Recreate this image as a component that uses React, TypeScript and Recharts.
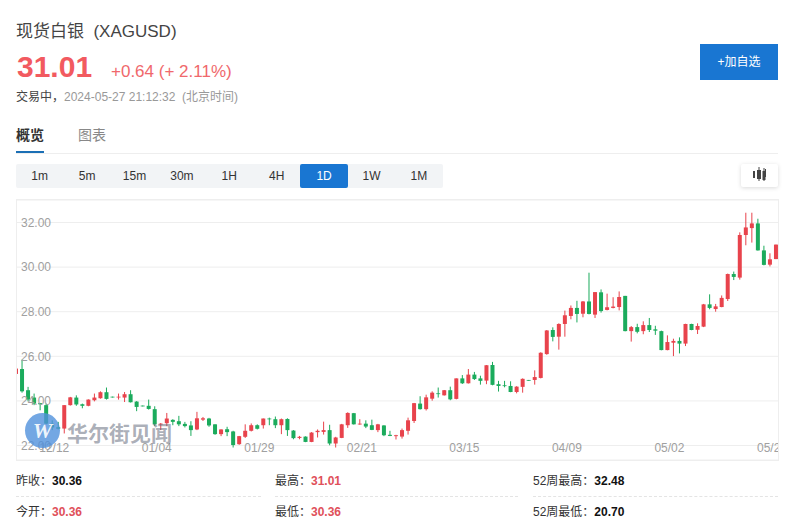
import React from "react";
import { ComposedChart, Bar, XAxis, YAxis, CartesianGrid } from "recharts";

const dates = [
  "12/01","12/04","12/05","12/06","12/07","12/08","12/11","12/12","12/13","12/14","12/15","12/18","12/19","12/20","12/21","12/22",
  "12/25","12/26","12/27","12/28","12/29","01/01","01/02","01/03","01/04","01/05","01/08","01/09","01/10","01/11","01/12",
  "01/15","01/16","01/17","01/18","01/19","01/22","01/23","01/24","01/25","01/26","01/29","01/30","01/31","02/01","02/02",
  "02/05","02/06","02/07","02/08","02/09","02/12","02/13","02/14","02/15","02/16","02/19","02/20","02/21","02/22","02/23",
  "02/26","02/27","02/28","02/29","03/01","03/04","03/05","03/06","03/07","03/08","03/11","03/12","03/13","03/14","03/15",
  "03/18","03/19","03/20","03/21","03/22","03/25","03/26","03/27","03/28","03/29","04/01","04/02","04/03","04/04","04/05",
  "04/08","04/09","04/10","04/11","04/12","04/15","04/16","04/17","04/18","04/19","04/22","04/23","04/24","04/25","04/26",
  "04/29","04/30","05/01","05/02","05/03","05/06","05/07","05/08","05/09","05/10","05/13","05/14","05/15","05/16","05/17",
  "05/20","05/21","05/22","05/23","05/24","05/27",
];
const tickDates = ["12/12","01/04","01/29","02/21","03/15","04/09","05/02","05/27"];
const priceTicks = [22, 24, 26, 28, 30, 32];

const opens = [
  25.21,25.43,24.48,24.15,23.90,23.81,22.98,22.82,22.76,23.81,24.15,23.85,23.78,24.03,24.12,24.39,
  24.19,24.16,24.15,24.30,23.97,23.79,23.78,23.63,22.97,23.00,23.15,23.09,22.97,22.90,22.72,
  23.16,23.21,22.95,22.51,22.73,22.63,22.06,22.39,22.66,22.91,22.91,23.21,23.18,22.91,23.19,
  22.67,22.34,22.40,22.16,22.60,22.61,22.69,22.09,22.34,22.91,23.45,22.95,22.98,22.91,22.69,
  22.90,22.48,22.42,22.40,22.66,23.10,23.88,23.63,24.10,24.34,24.25,24.48,24.09,25.01,24.79,
  25.18,25.01,24.91,25.61,24.75,24.70,24.67,24.40,24.63,24.94,24.94,25.03,26.10,27.18,26.88,
  27.45,27.81,28.17,27.91,28.46,27.87,28.87,28.08,28.17,28.21,28.71,27.13,27.31,27.13,27.40,
  27.21,27.13,26.28,26.61,26.69,26.57,27.45,27.19,27.33,28.33,28.12,28.21,28.57,29.69,29.53,
  31.44,31.75,31.96,30.75,30.11,30.36,
];
const closes = [
  25.45,24.43,24.06,23.88,23.85,22.98,22.81,22.75,23.81,24.16,23.84,23.78,24.06,24.15,24.39,24.09,
  24.18,24.19,24.30,23.94,23.73,23.78,23.64,22.95,22.98,23.21,23.06,22.95,22.87,22.69,23.22,
  23.22,22.90,22.51,22.72,22.60,22.02,22.42,22.66,22.91,22.75,23.21,23.18,22.91,23.18,22.69,
  22.33,22.39,22.16,22.58,22.66,22.69,22.09,22.36,22.95,23.46,22.95,22.98,22.85,22.70,22.95,
  22.46,22.43,22.46,22.69,23.13,23.90,23.63,24.16,24.37,24.31,24.48,24.07,25.01,24.79,25.18,
  24.98,24.90,25.60,24.72,24.67,24.67,24.40,24.64,24.99,24.92,25.07,26.16,27.16,26.87,27.45,
  27.84,28.17,27.90,28.46,27.90,28.88,28.03,28.20,28.23,28.66,27.13,27.31,27.10,27.40,27.18,
  27.15,26.28,26.64,26.69,26.57,27.45,27.18,27.36,28.33,28.17,28.24,28.62,29.69,29.56,31.44,
  31.78,31.96,30.75,30.10,30.35,31.01,
];
const highs = [
  25.45,25.85,24.63,24.33,23.91,23.88,23.13,23.06,23.81,24.18,24.25,23.88,24.07,24.33,24.43,24.60,
  24.19,24.33,24.40,24.48,23.99,23.79,24.06,23.76,23.01,23.46,23.18,23.33,23.06,23.09,23.51,
  23.28,23.24,22.95,22.73,22.84,22.66,22.43,22.95,22.99,22.95,23.21,23.25,23.30,23.21,23.22,
  22.69,22.43,22.41,22.60,22.72,23.07,22.93,22.39,22.97,23.49,23.46,23.18,23.13,23.16,22.97,
  22.91,22.66,22.48,22.76,23.25,23.91,24.21,24.28,24.43,24.60,24.49,24.64,25.01,25.16,25.43,
  25.30,25.13,25.61,25.75,24.90,24.90,24.88,24.66,25.01,24.94,25.37,26.18,27.18,27.30,27.48,
  28.05,28.28,28.49,28.48,29.75,28.88,29.00,28.81,28.65,28.91,28.71,27.36,27.46,27.57,27.72,
  27.37,27.15,26.94,26.79,26.85,27.46,27.46,27.48,28.35,28.78,28.35,28.73,29.71,29.80,31.56,
  32.44,32.44,32.17,30.96,30.62,31.01,
];
const lows = [
  25.21,24.37,23.98,23.81,23.58,22.95,22.69,22.72,22.54,23.79,23.78,23.67,23.76,23.98,24.10,24.06,
  24.18,24.06,23.95,23.93,23.54,23.78,23.61,22.87,22.69,22.87,22.91,22.87,22.81,22.43,22.69,
  23.10,22.84,22.48,22.42,22.42,21.91,22.03,22.34,22.63,22.72,22.76,22.91,22.78,22.51,22.43,
  22.28,22.28,22.15,22.15,22.36,22.49,22.01,21.91,22.33,22.79,22.94,22.93,22.78,22.69,22.60,
  22.42,22.42,22.27,22.31,22.49,23.01,23.61,23.57,24.01,24.15,24.24,24.03,24.07,24.76,24.78,
  24.94,24.73,24.75,24.70,24.42,24.61,24.39,24.34,24.37,24.92,24.73,25.01,26.07,26.67,26.30,
  26.88,27.66,27.52,27.75,27.88,27.72,27.96,28.06,28.15,28.06,27.12,26.66,27.03,26.99,27.09,
  26.96,26.27,26.27,26.01,26.13,26.46,27.17,27.00,27.31,28.11,28.00,28.20,28.48,29.42,29.44,
  30.98,31.10,30.74,30.08,30.03,30.36,
];

const chartData = dates.map((date, i) => ({
  date,
  open: opens[i],
  close: closes[i],
  high: highs[i],
  low: lows[i],
  range: [lows[i], highs[i]],
}));

const UP = "#e8434c";
const DOWN = "#1bab5c";

function Candle(props: any) {
  const { x, y, width, height, payload } = props;
  const { open, close, high, low } = payload;
  const color = close >= open ? UP : DOWN;
  const unit = height / Math.max(high - low, 0.0001);
  const top = y + (high - Math.max(open, close)) * unit;
  const bodyH = Math.max(Math.abs(close - open) * unit, 0.8);
  const cx = x + width / 2;
  return (
    <g>
      <rect x={cx - 0.5} y={y} width={1} height={Math.max(height, 0.8)} fill={color} />
      <rect x={x} y={top} width={width} height={bodyH} fill={color} />
    </g>
  );
}

const periods = ["1m", "5m", "15m", "30m", "1H", "4H", "1D", "1W", "1M"];
const stats = [
  [{ k: "昨收：", v: "30.36", c: "#111" }, { k: "最高：", v: "31.01", c: "#e0505a" }, { k: "52周最高：", v: "32.48", c: "#111" }],
  [{ k: "今开：", v: "30.36", c: "#e0505a" }, { k: "最低：", v: "30.36", c: "#e0505a" }, { k: "52周最低：", v: "20.70", c: "#111" }],
];
const colX = [16, 275, 533];
const colW = [245, 243, 245];
const FONT = '"Liberation Sans", Arial, "Noto Sans CJK SC", sans-serif';

const abs = (left: number, top: number, extra: any = {}): any => ({
  position: "absolute",
  left,
  top,
  whiteSpace: "nowrap",
  ...extra,
});

export default function App() {
  return (
    <div style={{ position: "fixed", left: 0, top: 0, width: 800, height: 526, overflow: "hidden", background: "#fff", fontFamily: FONT }}>
      <div style={abs(16, 22, { fontSize: 17, lineHeight: "20px", color: "#444" })}>现货白银&nbsp;&nbsp;(XAGUSD)</div>
      <div style={abs(17, 49, { fontSize: 30, lineHeight: "36px", fontWeight: 700, color: "#f25a60" })}>31.01</div>
      <div style={abs(111, 61, { fontSize: 17, lineHeight: "22px", color: "#f0686c" })}>+0.64 (+ 2.11%)</div>
      <div style={abs(16, 89, { fontSize: 12, lineHeight: "16px", color: "#999" })}>
        <span style={{ color: "#444" }}>交易中，</span>2024-05-27 21:12:32&nbsp;&nbsp;(北京时间)
      </div>
      <div style={abs(700, 44, { width: 78, height: 36, lineHeight: "36px", background: "#1976d2", color: "#fff", fontSize: 12, textAlign: "center" })}>+加自选</div>

      <div style={abs(16, 126, { fontSize: 14, lineHeight: "18px", fontWeight: 700, color: "#333" })}>概览</div>
      <div style={abs(78, 126, { fontSize: 14, lineHeight: "18px", color: "#888" })}>图表</div>
      <div style={abs(16, 153, { width: 762, height: 1, background: "#eee" })} />
      <div style={abs(16, 151, { width: 28, height: 2, background: "#1b6fb5" })} />

      <div style={abs(16, 164, { width: 427, height: 24, background: "#f2f4f6", borderRadius: 2 })} />
      {periods.map((p, i) => (
        <div
          key={p}
          style={abs(16 + i * 47.4, 164, {
            width: 47.4,
            height: 24,
            lineHeight: "24px",
            textAlign: "center",
            fontSize: 12,
            borderRadius: 2,
            background: p === "1D" ? "#1976d2" : "transparent",
            color: p === "1D" ? "#fff" : "#333",
          })}
        >
          {p}
        </div>
      ))}
      <div style={abs(741, 164, { width: 37, height: 23, background: "#fff", borderRadius: 2, boxShadow: "0 1px 4px rgba(0,0,0,0.15)" })}>
        <svg width="37" height="23">
          <rect x="12" y="7" width="2" height="7" fill="#444" />
          <rect x="17.5" y="3" width="1" height="14" fill="#444" />
          <rect x="16" y="6" width="4" height="9" fill="#444" />
          <rect x="22.5" y="4" width="1" height="13" fill="#444" />
          <rect x="21.5" y="7" width="3" height="9" fill="#444" />
          <rect x="24" y="5" width="1" height="8" fill="#444" />
        </svg>
      </div>

      <div style={abs(13.3, 200)}>
        <ComposedChart
          width={766}
          height={260}
          data={chartData}
          margin={{ top: 0, right: 0, bottom: 0, left: 0 }}
          barCategoryGap={0}
        >
          <CartesianGrid horizontal vertical={false} stroke="#eeeeee" strokeWidth={1} />
          <XAxis
            dataKey="date"
            ticks={tickDates}
            interval={0}
            mirror
            height={20}
            axisLine={false}
            tickLine={false}
            tick={{ fill: "#a0a0a0", fontSize: 12, fontFamily: FONT, dx: -4, dy: 0 }}
          />
          <YAxis
            domain={[21.35, 33.01]}
            ticks={priceTicks}
            mirror
            width={40}
            axisLine={false}
            tickLine={false}
            tickFormatter={(v: number) => v.toFixed(2)}
            tick={{ fill: "#a0a0a0", fontSize: 12, fontFamily: FONT, dx: 0 }}
          />
          <Bar dataKey="range" barSize={4} shape={Candle} isAnimationActive={false} />
        </ComposedChart>
      </div>
      <div style={abs(0, 199, { width: 16, height: 262, background: "#fff" })} />
      <div style={abs(16, 199, { width: 761, height: 260, border: "1px solid #eee" })} />

      <div style={abs(25, 413, { width: 35, height: 35, borderRadius: "50%", background: "rgba(80,145,220,0.8)", color: "rgba(255,255,255,0.9)", fontSize: 22, fontWeight: 700, lineHeight: "35px", textAlign: "center", fontFamily: '"Liberation Serif", serif', fontStyle: "italic" })}>W</div>
      <div style={abs(67, 420, { fontSize: 21, lineHeight: "24px", fontWeight: 700, color: "rgba(100,108,125,0.55)", fontFamily: '"Noto Sans CJK SC", sans-serif' })}>华尔街见闻</div>

      {stats.map((row, r) =>
        row.map((s, c) => (
          <React.Fragment key={`${r}-${c}`}>
            <div style={abs(colX[c], 473 + r * 31, { fontSize: 12, lineHeight: "16px", color: "#333" })}>
              {s.k}
              <span style={{ fontWeight: 700, color: s.c }}>{s.v}</span>
            </div>
            {r === 0 && <div style={abs(colX[c], 496, { width: colW[c], borderTop: "1px dashed #e4e4e4" })} />}
          </React.Fragment>
        ))
      )}
    </div>
  );
}
